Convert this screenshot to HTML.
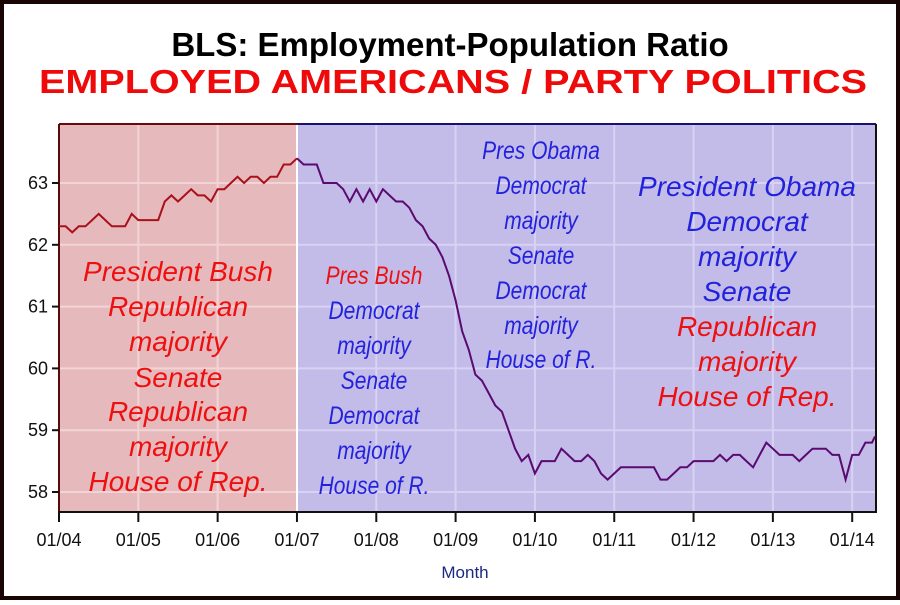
<!DOCTYPE html>
<html><head><meta charset="utf-8"><style>
body{margin:0;width:900px;height:600px;overflow:hidden;background:#fff;font-family:"Liberation Sans",sans-serif}
</style></head><body>
<svg width="900" height="600" xmlns="http://www.w3.org/2000/svg" font-family="Liberation Sans, sans-serif">
<rect x="2" y="2" width="896" height="596" fill="#fff" stroke="#1a0505" stroke-width="4"/>
<text x="450" y="56" text-anchor="middle" font-size="33" font-weight="bold" fill="#000">BLS: Employment-Population Ratio</text>
<text x="453" y="93" text-anchor="middle" font-size="33" font-weight="bold" fill="#ee0a0a" textLength="828" lengthAdjust="spacingAndGlyphs">EMPLOYED AMERICANS / PARTY POLITICS</text>
<rect x="59" y="124" width="238" height="388" fill="#e6babd"/>
<rect x="297" y="124" width="578" height="388" fill="#c3bbe8"/>
<g id="grid" stroke-width="2"></g>
<line x1="297" y1="124" x2="297" y2="512" stroke="#fff" stroke-width="2"/>
<line x1="59" y1="124" x2="297" y2="124" stroke="#6a0a0a" stroke-width="2"/>
<line x1="297" y1="124" x2="876" y2="124" stroke="#1a1070" stroke-width="2"/>
<line x1="59" y1="124" x2="59" y2="513" stroke="#5a0a0a" stroke-width="2"/>
<line x1="876" y1="124" x2="876" y2="513" stroke="#111" stroke-width="2"/>
<line x1="58" y1="512" x2="876" y2="512" stroke="#111" stroke-width="2"/>
<g id="ticks" stroke="#111" stroke-width="2"></g>
<g id="lbl" font-size="18" fill="#111"></g>
<polyline id="l1" fill="none" stroke="#a8101a" stroke-width="2"/>
<polyline id="l2" fill="none" stroke="#5a0a70" stroke-width="2"/>
<text x="465" y="578" text-anchor="middle" font-size="17" fill="#1a2a80">Month</text>
<g font-style="italic" font-size="28" text-anchor="middle" fill="#ee1010">
<text x="178" y="281">President Bush</text><text x="178" y="316">Republican</text><text x="178" y="351">majority</text><text x="178" y="387">Senate</text><text x="178" y="421">Republican</text><text x="178" y="456">majority</text><text x="178" y="491">House of Rep.</text>
</g>
<g font-style="italic" font-size="25" text-anchor="middle" transform="translate(374,0) scale(0.84,1)">
<text x="0" y="284" fill="#ee1010">Pres Bush</text><text x="0" y="319" fill="#2222dd">Democrat</text><text x="0" y="354" fill="#2222dd">majority</text><text x="0" y="389" fill="#2222dd">Senate</text><text x="0" y="424" fill="#2222dd">Democrat</text><text x="0" y="459" fill="#2222dd">majority</text><text x="0" y="494" fill="#2222dd">House of R.</text>
</g>
<g font-style="italic" font-size="25" text-anchor="middle" fill="#2222dd" transform="translate(541,0) scale(0.84,1)">
<text x="0" y="159">Pres Obama</text><text x="0" y="194">Democrat</text><text x="0" y="229">majority</text><text x="0" y="264">Senate</text><text x="0" y="299">Democrat</text><text x="0" y="334">majority</text><text x="0" y="368">House of R.</text>
</g>
<g font-style="italic" font-size="28" text-anchor="middle">
<text x="747" y="196" fill="#2222dd">President Obama</text><text x="747" y="231" fill="#2222dd">Democrat</text><text x="747" y="266" fill="#2222dd">majority</text><text x="747" y="301" fill="#2222dd">Senate</text><text x="747" y="336" fill="#ee1010">Republican</text><text x="747" y="371" fill="#ee1010">majority</text><text x="747" y="406" fill="#ee1010">House of Rep.</text>
</g>
</svg>
<script>
var ns="http://www.w3.org/2000/svg";
function X(m){return 59+m*6.61}
function Y(v){return 183+(63-v)*61.8}
var g=document.getElementById('grid'),t=document.getElementById('ticks'),l=document.getElementById('lbl');
function el(p,n,a,txt){var e=document.createElementNS(ns,n);for(var k in a)e.setAttribute(k,a[k]);if(txt)e.textContent=txt;p.appendChild(e);}
for(var v=58;v<=63;v++){var y=Y(v);
el(g,'line',{x1:59,x2:297,y1:y,y2:y,stroke:'#f2d4d6'});el(g,'line',{x1:297,x2:876,y1:y,y2:y,stroke:'#d8d2f4'});
el(t,'line',{x1:52,x2:59,y1:y,y2:y});el(l,'text',{x:48,y:y+6,'text-anchor':'end'},String(v));}
for(var i=0;i<=10;i++){var x=X(i*12);
el(g,'line',{x1:x,x2:x,y1:124,y2:512,stroke:x<297?'#f2d4d6':'#d8d2f4'});
el(t,'line',{x1:x,x2:x,y1:512,y2:522});
el(l,'text',{x:x,y:546,'text-anchor':'middle'},'01/'+(i+4<10?'0':'')+(i+4));}
var d=[62.3,62.3,62.2,62.3,62.3,62.4,62.5,62.4,62.3,62.3,62.3,62.5,
62.4,62.4,62.4,62.4,62.7,62.8,62.7,62.8,62.9,62.8,62.8,62.7,
62.9,62.9,63.0,63.1,63.0,63.1,63.1,63.0,63.1,63.1,63.3,63.3,
63.4,63.3,63.3,63.3,63.0,63.0,63.0,62.9,62.7,62.9,62.7,62.9,
62.7,62.9,62.8,62.7,62.7,62.6,62.4,62.3,62.1,62.0,61.8,61.5,
61.1,60.6,60.3,59.9,59.8,59.6,59.4,59.3,59.0,58.7,58.5,58.6,
58.3,58.5,58.5,58.5,58.7,58.6,58.5,58.5,58.6,58.5,58.3,58.2,
58.3,58.4,58.4,58.4,58.4,58.4,58.4,58.2,58.2,58.3,58.4,58.4,
58.5,58.5,58.5,58.5,58.6,58.5,58.6,58.6,58.5,58.4,58.6,58.8,
58.7,58.6,58.6,58.6,58.5,58.6,58.7,58.7,58.7,58.6,58.6,58.2,
58.6,58.6,58.8,58.8,58.9,58.9];
var p1=[],p2=[];
for(var i=0;i<d.length;i++){var x=Math.min(X(i),875);var pt=x.toFixed(1)+','+Y(d[i]).toFixed(1);if(i<=36)p1.push(pt);if(i>=36)p2.push(pt);}
document.getElementById('l1').setAttribute('points',p1.join(' '));
document.getElementById('l2').setAttribute('points',p2.join(' '));
</script>
</body></html>
